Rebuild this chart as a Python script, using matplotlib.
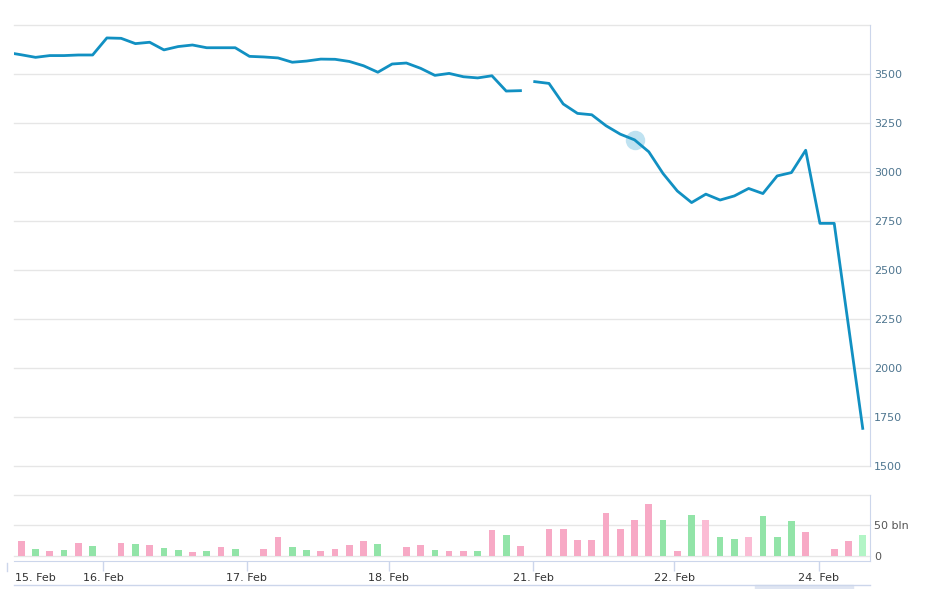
import matplotlib
matplotlib.use("Agg")
import matplotlib.pyplot as plt
import numpy as np
from matplotlib.patches import Rectangle
from matplotlib.lines import Line2D

# price per step; the first value sits one step left of the plot and gets clipped
price = [3610, 3598, 3585, 3594, 3594, 3597, 3597, 3684, 3682, 3655, 3662,
         3623, 3640, 3648, 3634, 3634, 3634, 3590, 3587, 3582, 3560,
         3566, 3576, 3575, 3564, 3542, 3509, 3551, 3556, 3529, 3493,
         3503, 3486, 3480, 3491, 3413, 3415,
         3461, 3452, 3347, 3299, 3292, 3236, 3193, 3164, 3103, 2992,
         2903, 2844, 2887, 2857, 2878, 2916, 2890, 2980, 2997, 3111,
         2738, 2738, 2215, 1692]
gap_after = 35   # line breaks between step 35 and 36

volume = [25.3, 11.6, 8.3, 9.9, 22, 17, 0, 22, 20.4, 18.7,
          13.8, 9.9, 7.2, 8.3, 15.4, 11.6, 0, 11.6, 30.3, 14.9,
          9.9, 8.3, 11.6, 18.2, 25.3, 20.4, 0, 14.9, 18.7, 9.9,
          8.3, 8.3, 8.3, 41.8, 35.2, 16.5, 0, 43.5, 43.5, 27,
          27, 69.9, 43.5, 58.3, 84.8, 58.3, 8.3, 66.6, 58.3, 31.9,
          28.6, 30.3, 65, 30.3, 56.7, 38.5, 0, 11.6, 25.3, 35.2]
# p = pink, g = green, l / L = lighter pink / green, - = no bar
vol_kind = ("pgpgpg-pgp" "ggpgpg-ppg" "gppppg-ppg"
            "ppgpgp-ppp" "pppppgpglg" "glgggp-ppL")

day_ticks = [-1.0, 5.75, 15.8, 25.75, 35.9, 45.8, 55.9]
day_labels = ["15. Feb", "16. Feb", "17. Feb", "18. Feb", "21. Feb", "22. Feb", "24. Feb"]
hover_idx = 43

kind_colors = {"p": "#f7a9c5", "g": "#92e4a8", "l": "#fbbcd4", "L": "#b2f5c6", "-": "none"}
line_col = "#1190c2"
grid_col = "#e6e6e6"
axis_col = "#ccd6eb"

plt.rcParams["font.family"] = ["DejaVu Sans"]

W, H = 941, 589
fig = plt.figure(figsize=(W / 100, H / 100), dpi=100)


def px_axes(x0, y0, x1, y1):
    return fig.add_axes([x0 / W, 1 - y1 / H, (x1 - x0) / W, (y1 - y0) / H])


xlim = (-0.512, 59.51)

# price panel
ax = px_axes(14, 25, 870, 466)
x = np.arange(-1, len(price) - 1)
p = np.array(price, dtype=float)
cut = gap_after + 2
ax.plot(x[:cut], p[:cut], color=line_col, lw=2.0, solid_joinstyle="round")
ax.plot(x[cut:], p[cut:], color=line_col, lw=2.0, solid_joinstyle="round")
ax.plot(hover_idx, p[hover_idx + 1], "o", ms=14, color="#8ccbe6", alpha=0.55,
        mec="none", zorder=1)
ax.set_ylim(1500, 3750)
yt = np.arange(1500, 3751, 250)
ax.set_yticks(yt)
ax.set_yticklabels([str(v) if v < 3750 else "" for v in yt])
ax.yaxis.tick_right()
ax.tick_params(axis="y", length=0, pad=3, labelsize=8, labelcolor="#4f7690")
ax.set_xticks([])
ax.set_xlim(*xlim)
ax.grid(axis="y", color=grid_col, lw=1)
ax.set_axisbelow(True)
for g in ax.get_ygridlines():
    g.set_clip_on(False)
for s in ["top", "left", "bottom"]:
    ax.spines[s].set_visible(False)
ax.spines["right"].set_color(axis_col)

# volume panel
vax = px_axes(14, 495, 870, 561)
vi = np.arange(len(volume))
cols = [kind_colors[k] for k in vol_kind]
vax.bar(vi, volume, width=0.47, color=cols, zorder=2)
vax.set_ylim(-50 * 5 / 30.3, 100)
vax.set_yticks([0, 50, 100])
vax.set_yticklabels(["0", "50 bln", ""])
vax.yaxis.tick_right()
vax.tick_params(axis="y", length=0, pad=3, labelsize=8, labelcolor="#555555")
vax.grid(axis="y", color=grid_col, lw=1)
vax.set_axisbelow(True)
for g in vax.get_ygridlines():
    g.set_clip_on(False)

shown = [(t, l) for t, l in zip(day_ticks, day_labels) if t >= xlim[0]]
vax.set_xticks([t for t, _ in shown])
vax.set_xticklabels([l for _, l in shown])
vax.set_xlim(*xlim)   # set_xticks would otherwise widen the view
vax.tick_params(axis="x", length=7, width=1, color=axis_col, pad=1.5,
                labelsize=8, labelcolor="#333333")
for s in ["top", "left"]:
    vax.spines[s].set_visible(False)
vax.spines["right"].set_color(axis_col)
vax.spines["bottom"].set_color(axis_col)

# days whose tick falls left of the plot: label pushed inside, tick drawn outside
for t, l in zip(day_ticks, day_labels):
    if t < xlim[0]:
        vax.annotate(l, xy=(t, 0), xycoords=vax.get_xaxis_transform(),
                     xytext=(5.8, -8.5), textcoords="offset points",
                     ha="left", va="top", fontsize=8, color="#333333",
                     annotation_clip=False)
        vax.add_line(Line2D([t, t], [-0.03, -0.15], color=axis_col, lw=1,
                            transform=vax.get_xaxis_transform(), clip_on=False))

# navigator strip peeking in at the bottom
fig.add_artist(Line2D([14 / W, 870 / W], [1 - 585 / H, 1 - 585 / H],
                      color=axis_col, lw=1, transform=fig.transFigure))
fig.add_artist(Rectangle((755 / W, 0), 98 / W, 4 / H, color="#dfe5f2",
                         transform=fig.transFigure))

fig.savefig("out.png", dpi=100)
